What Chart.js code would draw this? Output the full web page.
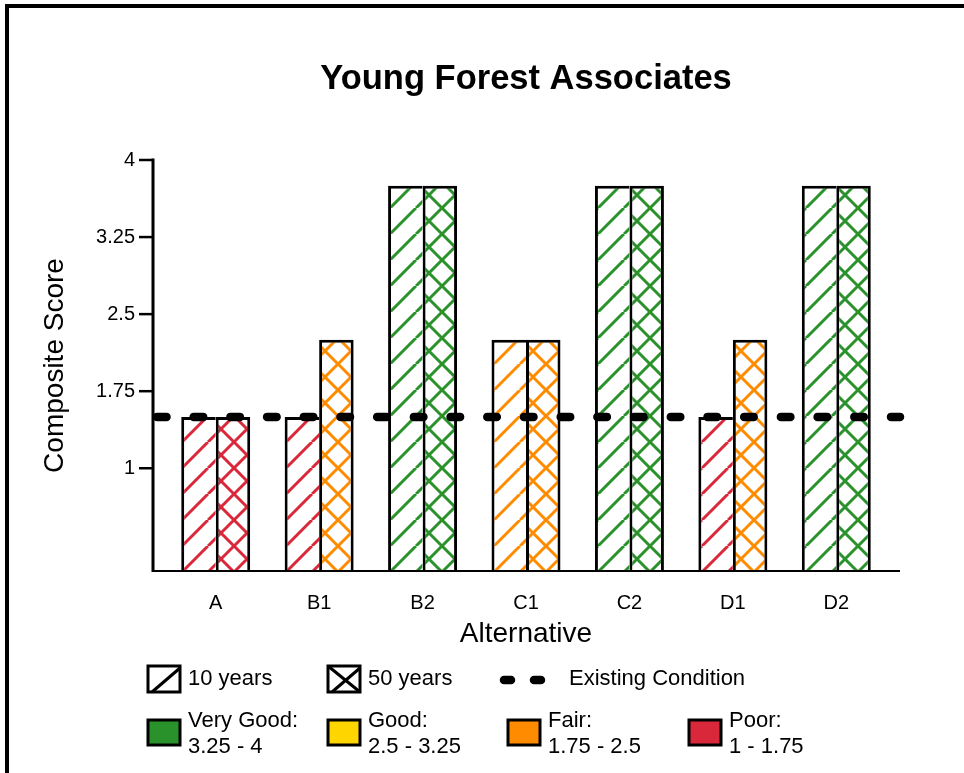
<!DOCTYPE html>
<html>
<head>
<meta charset="utf-8">
<script src="https://cdn.jsdelivr.net/npm/chart.js@4.4.0/dist/chart.umd.min.js"></script>
<style>
  html, body { margin: 0; padding: 0; background: #fff; }
  #wrap { position: relative; width: 964px; height: 773px; }
  #frame { position: absolute; left: 5px; top: 4px; right: 0; bottom: 0;
           border-top: 4px solid #000; border-left: 4px solid #000; pointer-events: none; }
</style>
</head>
<body>
<div id="wrap">
  <canvas id="chart"></canvas>
  <div id="frame"></div>
</div>
<script>
const alternatives = ['A', 'B1', 'B2', 'C1', 'C2', 'D1', 'D2'];
const score10 = [1.5, 1.5, 3.75, 2.25, 3.75, 1.5, 3.75];
const score50 = [1.5, 2.25, 3.75, 2.25, 3.75, 2.25, 3.75];
const existingCondition = 1.5;
const yTicks = [1, 1.75, 2.5, 3.25, 4];

const ratingNames = ['Very Good:', 'Good:', 'Fair:', 'Poor:'];
const ratingRanges = ['3.25 - 4', '2.5 - 3.25', '1.75 - 2.5', '1 - 1.75'];
const ratingMins = [3.25, 2.5, 1.75, 1];
const ratingColors = ['#2a922a', '#ffd500', '#ff8c00', '#d8283a'];

const FONT = '"Liberation Sans", Arial, Helvetica, sans-serif';
Chart.defaults.color = '#000';
Chart.defaults.font.family = FONT;

const canvas = document.getElementById('chart');
const mainCtx = canvas.getContext('2d');

function colorFor(v) {
  for (let i = 0; i < ratingMins.length; i++) {
    if (v >= ratingMins[i]) return ratingColors[i];
  }
  return ratingColors[ratingColors.length - 1];
}

// diagonal hatch tile, crossed for the 50 year bars
function hatch(color, cross) {
  const s = 26;
  const tile = document.createElement('canvas');
  tile.width = s; tile.height = s;
  const g = tile.getContext('2d');
  g.fillStyle = '#fff';
  g.fillRect(0, 0, s, s);
  g.strokeStyle = color;
  g.lineWidth = 3;
  g.beginPath();
  for (const o of [-s, 0, s]) {
    g.moveTo(o, s); g.lineTo(o + s, 0);
    if (cross) { g.moveTo(o, 0); g.lineTo(o + s, s); }
  }
  g.stroke();
  return mainCtx.createPattern(tile, 'repeat');
}

const axesPlugin = {
  id: 'axesPlugin',
  afterDatasetsDraw(chart) {
    const ctx = chart.ctx;
    const y = chart.scales.y;
    const x0 = 153, x1 = 900;
    const yBottom = y.getPixelForValue(0);
    ctx.save();
    ctx.strokeStyle = '#000';
    // x axis
    ctx.lineWidth = 2;
    ctx.beginPath();
    ctx.moveTo(x0, yBottom); ctx.lineTo(x1, yBottom);
    ctx.stroke();
    // y axis + ticks
    ctx.lineWidth = 3;
    ctx.beginPath();
    ctx.moveTo(x0, y.getPixelForValue(4) - 1.5); ctx.lineTo(x0, yBottom + 1);
    ctx.stroke();
    ctx.lineWidth = 2.5;
    yTicks.forEach(v => {
      const py = y.getPixelForValue(v);
      ctx.beginPath();
      ctx.moveTo(x0 - 14, py); ctx.lineTo(x0, py);
      ctx.stroke();
    });
    // existing condition
    const ey = y.getPixelForValue(existingCondition);
    ctx.lineWidth = 8.5;
    ctx.lineCap = 'round';
    ctx.setLineDash([9.5, 27.2]);
    ctx.beginPath();
    ctx.moveTo(157, ey); ctx.lineTo(x1, ey);
    ctx.stroke();
    ctx.restore();
  },
  afterDraw(chart) {
    const ctx = chart.ctx;
    ctx.save();
    ctx.font = '22px ' + FONT;
    ctx.fillStyle = '#000';
    ctx.textBaseline = 'middle';
    ctx.textAlign = 'left';
    ctx.strokeStyle = '#000';

    // row 1: hatch keys
    const r1 = 679;
    ctx.lineWidth = 3;
    ctx.strokeRect(148, 666, 32, 26);
    ctx.beginPath();
    ctx.moveTo(152, 692); ctx.lineTo(180, 668);
    ctx.stroke();
    ctx.fillText('10 years', 188, r1);

    ctx.strokeRect(328, 666, 32, 26);
    ctx.beginPath();
    ctx.moveTo(328, 666); ctx.lineTo(360, 692);
    ctx.moveTo(332, 692); ctx.lineTo(360, 668);
    ctx.stroke();
    ctx.fillText('50 years', 368, r1);

    ctx.lineWidth = 8.5;
    ctx.lineCap = 'round';
    ctx.beginPath();
    ctx.moveTo(504, r1 + 1); ctx.lineTo(511, r1 + 1);
    ctx.moveTo(534, r1 + 1); ctx.lineTo(541, r1 + 1);
    ctx.stroke();
    ctx.lineCap = 'butt';
    ctx.fillText('Existing Condition', 569, r1);

    // row 2: rating colours
    const bx = [148, 328, 508, 689];
    ratingNames.forEach((name, i) => {
      ctx.fillStyle = ratingColors[i];
      ctx.fillRect(bx[i], 720, 32, 25);
      ctx.lineWidth = 3;
      ctx.strokeRect(bx[i], 720, 32, 25);
      ctx.fillStyle = '#000';
      ctx.fillText(name, bx[i] + 40, 721);
      ctx.fillText(ratingRanges[i], bx[i] + 40, 747);
    });
    ctx.restore();
  }
};

new Chart(canvas, {
  type: 'bar',
  data: {
    labels: alternatives,
    datasets: [
      {
        label: '10 years',
        data: score10,
        backgroundColor: score10.map(v => hatch(colorFor(v), false)),
        borderColor: '#000',
        borderWidth: { top: 3, left: 3, right: 0, bottom: 0 },
        borderSkipped: false,
        barPercentage: 1,
        categoryPercentage: 0.667
      },
      {
        label: '50 years',
        data: score50,
        backgroundColor: score50.map(v => hatch(colorFor(v), true)),
        borderColor: '#000',
        borderWidth: { top: 3, left: 3, right: 3, bottom: 0 },
        borderSkipped: false,
        barPercentage: 1,
        categoryPercentage: 0.667
      }
    ]
  },
  options: {
    responsive: true,
    maintainAspectRatio: false,
    animation: false,
    layout: { padding: { left: 0, right: 76, top: 0, bottom: 112 } },
    plugins: {
      legend: { display: false },
      tooltip: { enabled: false },
      title: {
        display: true,
        fullSize: false,
        text: 'Young Forest Associates',
        font: { size: 34.5, weight: 'bold' },
        padding: { top: 59, bottom: 59.6 }
      }
    },
    scales: {
      x: {
        grid: { display: false, drawTicks: false },
        border: { display: false },
        ticks: { font: { size: 20 }, padding: 20, maxRotation: 0 },
        title: { display: true, text: 'Alternative', font: { size: 28 }, padding: { top: 0, bottom: 10 } },
        afterFit(scale) { scale.height = 90; }
      },
      y: {
        min: 0,
        max: 4,
        grid: { display: false, drawTicks: false },
        border: { display: false },
        afterBuildTicks(scale) { scale.ticks = yTicks.map(v => ({ value: v })); },
        ticks: { font: { size: 20 }, padding: 29, callback: v => String(v) },
        title: { display: true, text: 'Composite Score', font: { size: 28 }, padding: { top: 38, bottom: 0 } },
        afterFit(scale) { scale.width = 164; }
      }
    }
  },
  plugins: [axesPlugin]
});
</script>
</body>
</html>
